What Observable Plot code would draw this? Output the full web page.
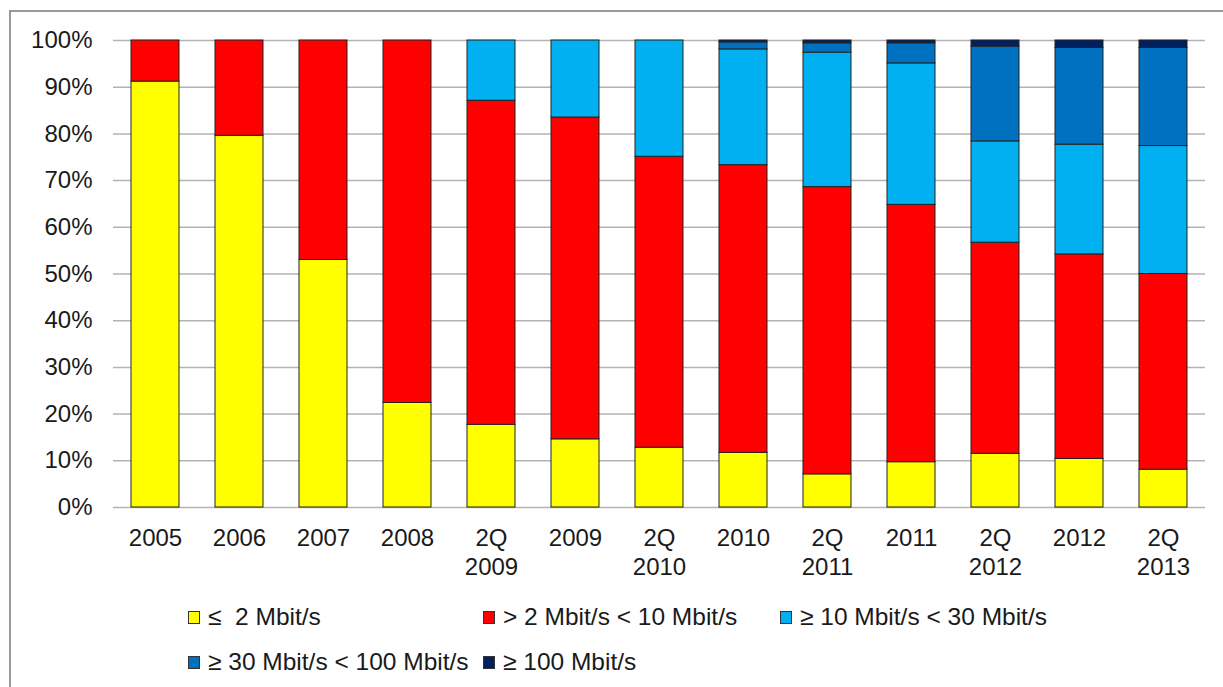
<!DOCTYPE html>
<html>
<head>
<meta charset="utf-8">
<script src="https://cdn.jsdelivr.net/npm/d3@7"></script>
<script src="https://cdn.jsdelivr.net/npm/@observablehq/plot@0.6"></script>
<style>
  html, body { margin: 0; padding: 0; background: #fff; }
  body { width: 1223px; height: 687px; position: relative; overflow: hidden; font-family: "Liberation Sans", Arial, sans-serif; }
  #frame { position: absolute; left: 9px; top: 10px; width: 1300px; height: 800px; border-top: 2px solid #999; border-left: 2px solid #999; }
  #chart { position: absolute; left: 0; top: 0; }
  #legend { position: absolute; left: 188px; top: 603px; display: grid; grid-template-columns: 295px 297px 330px; row-gap: 17px; }
  .item { display: flex; align-items: center; height: 28px; font-size: 24.5px; color: #1a1a1a; white-space: pre; }
  .sw { width: 10px; height: 11px; border: 1px solid #333; margin-right: 8px; flex: none; }
</style>
</head>
<body>
<div id="frame"></div>
<div id="chart"></div>
<div id="legend"></div>
<script>
const categories = ["2005","2006","2007","2008","2Q 2009","2009","2Q 2010","2010","2Q 2011","2011","2Q 2012","2012","2Q 2013"];
const tickLabels = ["2005","2006","2007","2008","2Q\n2009","2009","2Q\n2010","2010","2Q\n2011","2011","2Q\n2012","2012","2Q\n2013"];
const seriesNames = ["≤  2 Mbit/s", "> 2 Mbit/s < 10 Mbit/s", "≥ 10 Mbit/s < 30 Mbit/s", "≥ 30 Mbit/s < 100 Mbit/s", "≥ 100 Mbit/s"];
const seriesColors = ["#FFFF00", "#FF0000", "#00B0F0", "#0070C0", "#002060"];
const upTo2 =     [91.2, 79.6, 53.0, 22.4, 17.7, 14.6, 12.8, 11.7,  7.1,  9.7, 11.5, 10.4,  8.1];
const from2to10 = [ 8.8, 20.4, 47.0, 77.6, 69.4, 68.9, 62.3, 61.6, 61.5, 55.1, 45.2, 43.8, 41.9];
const from10to30 = [0, 0, 0, 0, 12.9, 16.5, 24.9, 24.8, 28.8, 30.3, 21.7, 23.5, 27.4];
const from30to100 = [0, 0, 0, 0, 0, 0, 0, 1.5, 2.0, 4.3, 20.3, 20.7, 21.0];
const from100 =    [0, 0, 0, 0, 0, 0, 0, 0.4, 0.6, 0.6, 1.3, 1.6, 1.6];
const yTicks = [0, 10, 20, 30, 40, 50, 60, 70, 80, 90, 100];

const seriesValues = [upTo2, from2to10, from10to30, from30to100, from100];
const rows = [];
categories.forEach((c, i) => {
  seriesNames.forEach((s, j) => {
    const v = seriesValues[j][i];
    if (v > 0) rows.push({cat: c, series: s, value: v});
  });
});
const labelOf = new Map(categories.map((c, i) => [c, tickLabels[i]]));

const font = "'Liberation Sans', Arial, sans-serif";
const plot = Plot.plot({
  width: 1223,
  height: 590,
  marginTop: 40,
  marginBottom: 83,
  marginLeft: 113,
  marginRight: 18,
  style: {fontFamily: font, background: "transparent", color: "#1a1a1a"},
  x: {type: "band", domain: categories, paddingInner: 0.43, paddingOuter: 0.2, axis: null},
  y: {domain: [0, 100], axis: null},
  color: {domain: seriesNames, range: seriesColors},
  marks: [
    Plot.ruleY(yTicks, {stroke: "#b3b3b3", strokeWidth: 1.5}),
    Plot.barY(rows, {x: "cat", y: "value", fill: "series", z: "series", stroke: "#222", strokeWidth: 1}),
    Plot.axisY({ticks: yTicks, tickSize: 0, tickPadding: 21, tickFormat: d => d + "%", fontSize: 24, fill: "#1a1a1a", label: null}),
    Plot.axisX({tickSize: 0, tickPadding: 18, tickFormat: d => labelOf.get(d), fontSize: 24, lineHeight: 1.2, fill: "#1a1a1a", label: null})
  ]
});
document.getElementById("chart").appendChild(plot);

const legend = document.getElementById("legend");
seriesNames.forEach((s, j) => {
  const item = document.createElement("div");
  item.className = "item";
  const sw = document.createElement("span");
  sw.className = "sw";
  sw.style.background = seriesColors[j];
  const t = document.createElement("span");
  t.textContent = s;
  item.appendChild(sw);
  item.appendChild(t);
  legend.appendChild(item);
});
</script>
</body>
</html>
